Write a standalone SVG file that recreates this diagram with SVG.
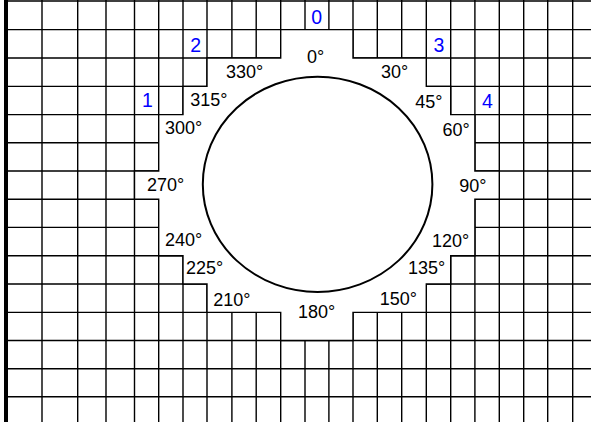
<svg xmlns="http://www.w3.org/2000/svg" width="591" height="422" viewBox="0 0 591 422">
<style>
.g{stroke:#000;stroke-width:1.4;fill:none}
.hole{fill:#fff;stroke:#000;stroke-width:1.4}
.lbl{font-family:"Liberation Sans",Arial,sans-serif;font-size:18px;fill:#000}
.num{font-family:"Liberation Sans",Arial,sans-serif;font-size:19.5px;fill:#0000ff;text-anchor:middle}
</style>
<rect x="0" y="0" width="591" height="422" fill="#fff"/>
<g id="grid" class="g">
<path d="M8 1H591M8 29.6H591M8 58H591M8 86.4H591M8 114.6H591M8 142.7H591M8 171H591M8 199.3H591M8 227.4H591M8 255.8H591M8 284H591M8 312.4H591M8 340.5H591M8 368.7H591M8 396.8H591"/>
<path d="M42 0V422M77.7 0V422M106 0V422M134.5 0V422M158.7 0V422M183 0V422M207 0V422M231.9 0V422M256.2 0V422M280.7 0V422M305 0V422M328.9 0V422M353 0V422M377.3 0V422M401.7 0V422M426.3 0V422M450.7 0V422M474.9 0V422M499.3 0V422M523.7 0V422M547.7 0V422M572.7 0V422"/>
</g>
<rect id="leftbar" x="4" y="0" width="4" height="422" fill="#000"/>
<polygon id="hole" class="hole" points="280.7,29.6 353,29.6 353,58 426.3,58 426.3,86.4 450.7,86.4 450.7,114.6 474.9,114.6 474.9,171 499.3,171 499.3,199.3 474.9,199.3 474.9,255.8 450.7,255.8 450.7,284 426.3,284 426.3,312.4 353,312.4 353,340.5 280.7,340.5 280.7,312.4 207,312.4 207,284 183,284 183,255.8 158.7,255.8 158.7,199.3 134.5,199.3 134.5,171 158.7,171 158.7,114.6 183,114.6 183,86.4 207,86.4 207,58 280.7,58"/>
<ellipse id="circle" cx="317.6" cy="184.3" rx="114.8" ry="107.6" fill="none" stroke="#000" stroke-width="2"/>
<g id="markers">
<text class="num" x="316.7" y="24.3">0</text>
<text class="num" x="147.4" y="106.5">1</text>
<text class="num" x="195.7" y="51.9">2</text>
<text class="num" x="439" y="51.9">3</text>
<text class="num" x="487.5" y="107.8">4</text>
</g>
<g id="angles" class="lbl">
<text x="307" y="63.3">0°</text>
<text x="226" y="77.7">330°</text>
<text x="381" y="78">30°</text>
<text x="190.3" y="106">315°</text>
<text x="415.3" y="107.5">45°</text>
<text x="165" y="133.7">300°</text>
<text x="442.6" y="136">60°</text>
<text x="147" y="190.7">270°</text>
<text x="459.3" y="192.3">90°</text>
<text x="165" y="245.7">240°</text>
<text x="432" y="246.7">120°</text>
<text x="186" y="274">225°</text>
<text x="408" y="274.3">135°</text>
<text x="213.3" y="305.7">210°</text>
<text x="379.7" y="305">150°</text>
<text x="298" y="317.7">180°</text>
</g>
</svg>
